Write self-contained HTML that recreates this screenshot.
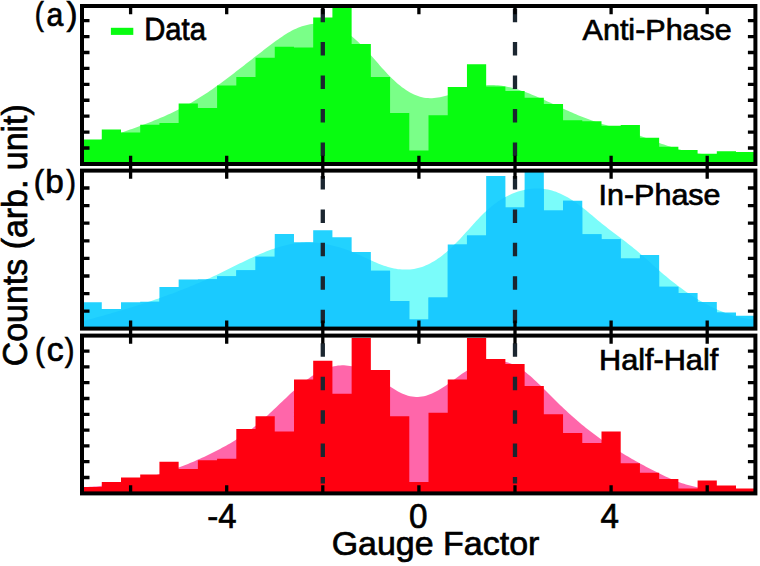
<!DOCTYPE html>
<html><head><meta charset="utf-8"><style>
html,body{margin:0;padding:0;background:#fff;}
body{width:760px;height:566px;overflow:hidden;position:relative;font-family:"Liberation Sans", sans-serif;}
svg text{font-family:"Liberation Sans", sans-serif;fill:#000;}
</style></head><body>
<svg width="760" height="566" viewBox="0 0 760 566" style="position:absolute;left:0;top:0">
<defs><clipPath id="barsb"><path d="M82.55,331.6V302.20H101.77V331.6ZM101.77,331.6V309.10H120.99V331.6ZM120.99,331.6V302.20H140.21V331.6ZM140.21,331.6V301.80H159.43V331.6ZM159.43,331.6V286.90H178.65V331.6ZM178.65,331.6V279.40H197.87V331.6ZM197.87,331.6V279.30H217.09V331.6ZM217.09,331.6V276.20H236.31V331.6ZM236.31,331.6V270.30H255.53V331.6ZM255.53,331.6V256.80H274.75V331.6ZM274.75,331.6V234.00H293.97V331.6ZM293.97,331.6V242.20H313.19V331.6ZM313.19,331.6V230.30H332.41V331.6ZM332.41,331.6V237.20H351.63V331.6ZM351.63,331.6V251.90H370.85V331.6ZM370.85,331.6V270.70H390.07V331.6ZM390.07,331.6V301.00H409.29V331.6ZM409.29,331.6V319.40H428.51V331.6ZM428.51,331.6V297.40H447.73V331.6ZM447.73,331.6V244.60H466.95V331.6ZM466.95,331.6V235.50H486.17V331.6ZM486.17,331.6V175.90H505.39V331.6ZM505.39,331.6V207.60H524.61V331.6ZM524.61,331.6V168.00H543.83V331.6ZM543.83,331.6V210.60H563.05V331.6ZM563.05,331.6V200.70H582.27V331.6ZM582.27,331.6V234.30H601.49V331.6ZM601.49,331.6V239.20H620.71V331.6ZM620.71,331.6V258.40H639.93V331.6ZM639.93,331.6V255.00H659.15V331.6ZM659.15,331.6V286.70H678.37V331.6ZM678.37,331.6V293.10H697.59V331.6ZM697.59,331.6V302.00H716.81V331.6ZM716.81,331.6V312.40H736.03V331.6ZM736.03,331.6V315.80H755.25V331.6Z"/></clipPath>
<clipPath id="clipa"><rect x="82.0" y="6.0" width="673.4" height="158.0"/></clipPath>
<clipPath id="clipb"><rect x="82.0" y="170.6" width="673.4" height="158.00000000000003"/></clipPath>
<clipPath id="clipc"><rect x="82.0" y="335.6" width="673.4" height="157.79999999999995"/></clipPath>
</defs>
<g clip-path="url(#clipa)">
<path d="M84.00,145.83 L86.00,145.07 L88.00,144.32 L90.00,143.58 L92.00,142.85 L94.00,142.12 L96.00,141.40 L98.00,140.69 L100.00,139.98 L102.00,139.28 L104.00,138.58 L106.00,137.89 L108.00,137.20 L110.00,136.51 L112.00,135.82 L114.00,135.13 L116.00,134.45 L118.00,133.76 L120.00,133.07 L122.00,132.38 L124.00,131.69 L126.00,130.99 L128.00,130.30 L130.00,129.59 L132.00,128.89 L134.00,128.17 L136.00,127.45 L138.00,126.73 L140.00,125.99 L142.00,125.25 L144.00,124.50 L146.00,123.74 L148.00,122.98 L150.00,122.20 L152.00,121.40 L154.00,120.60 L156.00,119.79 L158.00,118.96 L160.00,118.11 L162.00,117.26 L164.00,116.39 L166.00,115.50 L168.00,114.59 L170.00,113.67 L172.00,112.73 L174.00,111.78 L176.00,110.80 L178.00,109.80 L180.00,108.79 L182.00,107.75 L184.00,106.69 L186.00,105.61 L188.00,104.51 L190.00,103.38 L192.00,102.23 L194.00,101.05 L196.00,99.85 L198.00,98.62 L200.00,97.37 L202.00,96.09 L204.00,94.79 L206.00,93.47 L208.00,92.13 L210.00,90.76 L212.00,89.38 L214.00,87.98 L216.00,86.55 L218.00,85.12 L220.00,83.67 L222.00,82.20 L224.00,80.72 L226.00,79.23 L228.00,77.72 L230.00,76.21 L232.00,74.69 L234.00,73.15 L236.00,71.62 L238.00,70.07 L240.00,68.52 L242.00,66.96 L244.00,65.40 L246.00,63.84 L248.00,62.28 L250.00,60.72 L252.00,59.15 L254.00,57.59 L256.00,56.04 L258.00,54.48 L260.00,52.93 L262.00,51.39 L264.00,49.85 L266.00,48.32 L268.00,46.80 L270.00,45.29 L272.00,43.79 L274.00,42.30 L276.00,40.84 L278.00,39.40 L280.00,38.00 L282.00,36.64 L284.00,35.32 L286.00,34.05 L288.00,32.84 L290.00,31.68 L292.00,30.59 L294.00,29.58 L296.00,28.64 L298.00,27.78 L300.00,27.00 L302.00,26.29 L304.00,25.67 L306.00,25.13 L308.00,24.67 L310.00,24.29 L312.00,23.99 L314.00,23.78 L316.00,23.65 L318.00,23.61 L320.00,23.65 L322.00,23.78 L324.00,24.00 L326.00,24.30 L328.00,24.70 L330.00,25.18 L332.00,25.75 L334.00,26.42 L336.00,27.17 L338.00,28.02 L340.00,28.96 L342.00,29.99 L344.00,31.12 L346.00,32.35 L348.00,33.67 L350.00,35.08 L352.00,36.60 L354.00,38.21 L356.00,39.92 L358.00,41.73 L360.00,43.64 L362.00,45.63 L364.00,47.70 L366.00,49.83 L368.00,52.01 L370.00,54.24 L372.00,56.50 L374.00,58.78 L376.00,61.07 L378.00,63.36 L380.00,65.64 L382.00,67.89 L384.00,70.12 L386.00,72.29 L388.00,74.42 L390.00,76.47 L392.00,78.46 L394.00,80.36 L396.00,82.19 L398.00,83.93 L400.00,85.58 L402.00,87.14 L404.00,88.61 L406.00,89.99 L408.00,91.27 L410.00,92.45 L412.00,93.52 L414.00,94.49 L416.00,95.36 L418.00,96.10 L420.00,96.74 L422.00,97.26 L424.00,97.66 L426.00,97.94 L428.00,98.11 L430.00,98.18 L432.00,98.15 L434.00,98.03 L436.00,97.83 L438.00,97.55 L440.00,97.20 L442.00,96.79 L444.00,96.32 L446.00,95.80 L448.00,95.24 L450.00,94.64 L452.00,94.01 L454.00,93.36 L456.00,92.69 L458.00,92.01 L460.00,91.33 L462.00,90.65 L464.00,89.98 L466.00,89.33 L468.00,88.71 L470.00,88.11 L472.00,87.55 L474.00,87.03 L476.00,86.57 L478.00,86.16 L480.00,85.81 L482.00,85.53 L484.00,85.30 L486.00,85.14 L488.00,85.04 L490.00,84.99 L492.00,85.00 L494.00,85.06 L496.00,85.18 L498.00,85.35 L500.00,85.57 L502.00,85.83 L504.00,86.15 L506.00,86.51 L508.00,86.92 L510.00,87.37 L512.00,87.86 L514.00,88.40 L516.00,88.96 L518.00,89.57 L520.00,90.21 L522.00,90.88 L524.00,91.58 L526.00,92.31 L528.00,93.07 L530.00,93.85 L532.00,94.65 L534.00,95.48 L536.00,96.32 L538.00,97.18 L540.00,98.05 L542.00,98.94 L544.00,99.84 L546.00,100.75 L548.00,101.67 L550.00,102.59 L552.00,103.51 L554.00,104.44 L556.00,105.37 L558.00,106.30 L560.00,107.22 L562.00,108.14 L564.00,109.05 L566.00,109.95 L568.00,110.84 L570.00,111.72 L572.00,112.59 L574.00,113.45 L576.00,114.30 L578.00,115.14 L580.00,115.96 L582.00,116.76 L584.00,117.56 L586.00,118.33 L588.00,119.09 L590.00,119.83 L592.00,120.56 L594.00,121.27 L596.00,121.95 L598.00,122.62 L600.00,123.27 L602.00,123.90 L604.00,124.50 L606.00,125.09 L608.00,125.67 L610.00,126.24 L612.00,126.80 L614.00,127.37 L616.00,127.94 L618.00,128.52 L620.00,129.11 L622.00,129.71 L624.00,130.33 L626.00,130.97 L628.00,131.62 L630.00,132.29 L632.00,132.97 L634.00,133.67 L636.00,134.38 L638.00,135.09 L640.00,135.82 L642.00,136.55 L644.00,137.29 L646.00,138.03 L648.00,138.77 L650.00,139.51 L652.00,140.25 L654.00,140.99 L656.00,141.72 L658.00,142.45 L660.00,143.17 L662.00,143.88 L664.00,144.58 L666.00,145.27 L668.00,145.95 L670.00,146.61 L672.00,147.25 L674.00,147.87 L676.00,148.48 L678.00,149.06 L680.00,149.62 L682.00,150.15 L684.00,150.66 L686.00,151.14 L688.00,151.59 L690.00,152.02 L692.00,152.42 L694.00,152.79 L696.00,153.14 L698.00,153.47 L700.00,153.78 L702.00,154.07 L704.00,154.34 L706.00,154.59 L708.00,154.83 L710.00,155.06 L712.00,155.26 L714.00,155.46 L716.00,155.65 L718.00,155.82 L720.00,155.99 L722.00,156.15 L724.00,156.31 L726.00,156.46 L728.00,156.60 L730.00,156.75 L732.00,156.89 L734.00,157.03 L736.00,157.17 L738.00,157.32 L740.00,157.47 L742.00,157.62 L744.00,157.78 L746.00,157.95 L748.00,158.12 L750.00,158.31 L752.00,158.50 L754.00,158.71 L756.00,158.93 L757.00,167.0 L84.00,167.0 Z" fill="#7aff88"/>
<path d="M82.55,167.0V139.60H101.77V167.0ZM101.77,167.0V129.60H120.99V167.0ZM120.99,167.0V132.50H140.21V167.0ZM140.21,167.0V124.80H159.43V167.0ZM159.43,167.0V123.00H178.65V167.0ZM178.65,167.0V103.50H197.87V167.0ZM197.87,167.0V108.00H217.09V167.0ZM217.09,167.0V85.60H236.31V167.0ZM236.31,167.0V77.00H255.53V167.0ZM255.53,167.0V57.70H274.75V167.0ZM274.75,167.0V46.70H293.97V167.0ZM293.97,167.0V47.50H313.19V167.0ZM313.19,167.0V17.50H332.41V167.0ZM332.41,167.0V4.00H351.63V167.0ZM351.63,167.0V44.00H370.85V167.0ZM370.85,167.0V77.00H390.07V167.0ZM390.07,167.0V113.00H409.29V167.0ZM409.29,167.0V150.60H428.51V167.0ZM428.51,167.0V115.30H447.73V167.0ZM447.73,167.0V87.00H466.95V167.0ZM466.95,167.0V64.30H486.17V167.0ZM486.17,167.0V86.60H505.39V167.0ZM505.39,167.0V91.00H524.61V167.0ZM524.61,167.0V97.80H543.83V167.0ZM543.83,167.0V103.90H563.05V167.0ZM563.05,167.0V120.30H582.27V167.0ZM582.27,167.0V121.30H601.49V167.0ZM601.49,167.0V125.80H620.71V167.0ZM620.71,167.0V124.90H639.93V167.0ZM639.93,167.0V137.70H659.15V167.0ZM659.15,167.0V146.80H678.37V167.0ZM678.37,167.0V150.00H697.59V167.0ZM697.59,167.0V153.70H716.81V167.0ZM716.81,167.0V151.30H736.03V167.0ZM736.03,167.0V152.10H755.25V167.0Z" fill="#08fc10"/>
</g>
<g clip-path="url(#clipb)">
<path d="M84.00,320.89 L86.00,320.35 L88.00,319.81 L90.00,319.27 L92.00,318.72 L94.00,318.17 L96.00,317.62 L98.00,317.07 L100.00,316.51 L102.00,315.95 L104.00,315.39 L106.00,314.83 L108.00,314.26 L110.00,313.69 L112.00,313.12 L114.00,312.54 L116.00,311.96 L118.00,311.37 L120.00,310.79 L122.00,310.19 L124.00,309.60 L126.00,308.99 L128.00,308.39 L130.00,307.78 L132.00,307.16 L134.00,306.54 L136.00,305.92 L138.00,305.29 L140.00,304.65 L142.00,304.01 L144.00,303.36 L146.00,302.71 L148.00,302.05 L150.00,301.38 L152.00,300.71 L154.00,300.04 L156.00,299.35 L158.00,298.66 L160.00,297.97 L162.00,297.26 L164.00,296.55 L166.00,295.83 L168.00,295.11 L170.00,294.37 L172.00,293.63 L174.00,292.89 L176.00,292.13 L178.00,291.37 L180.00,290.59 L182.00,289.81 L184.00,289.03 L186.00,288.23 L188.00,287.42 L190.00,286.61 L192.00,285.78 L194.00,284.95 L196.00,284.11 L198.00,283.26 L200.00,282.40 L202.00,281.53 L204.00,280.65 L206.00,279.76 L208.00,278.86 L210.00,277.95 L212.00,277.03 L214.00,276.10 L216.00,275.15 L218.00,274.20 L220.00,273.24 L222.00,272.27 L224.00,271.29 L226.00,270.31 L228.00,269.32 L230.00,268.33 L232.00,267.33 L234.00,266.34 L236.00,265.35 L238.00,264.36 L240.00,263.37 L242.00,262.40 L244.00,261.42 L246.00,260.46 L248.00,259.51 L250.00,258.57 L252.00,257.64 L254.00,256.72 L256.00,255.82 L258.00,254.94 L260.00,254.08 L262.00,253.23 L264.00,252.41 L266.00,251.61 L268.00,250.84 L270.00,250.09 L272.00,249.37 L274.00,248.68 L276.00,248.01 L278.00,247.38 L280.00,246.78 L282.00,246.22 L284.00,245.69 L286.00,245.20 L288.00,244.75 L290.00,244.34 L292.00,243.97 L294.00,243.64 L296.00,243.36 L298.00,243.12 L300.00,242.92 L302.00,242.77 L304.00,242.66 L306.00,242.59 L308.00,242.56 L310.00,242.58 L312.00,242.64 L314.00,242.74 L316.00,242.87 L318.00,243.05 L320.00,243.27 L322.00,243.53 L324.00,243.82 L326.00,244.16 L328.00,244.53 L330.00,244.95 L332.00,245.39 L334.00,245.88 L336.00,246.40 L338.00,246.96 L340.00,247.56 L342.00,248.19 L344.00,248.85 L346.00,249.55 L348.00,250.29 L350.00,251.06 L352.00,251.86 L354.00,252.70 L356.00,253.56 L358.00,254.44 L360.00,255.34 L362.00,256.26 L364.00,257.18 L366.00,258.10 L368.00,259.02 L370.00,259.94 L372.00,260.84 L374.00,261.72 L376.00,262.58 L378.00,263.41 L380.00,264.21 L382.00,264.97 L384.00,265.69 L386.00,266.36 L388.00,266.97 L390.00,267.53 L392.00,268.03 L394.00,268.46 L396.00,268.83 L398.00,269.13 L400.00,269.36 L402.00,269.52 L404.00,269.61 L406.00,269.62 L408.00,269.56 L410.00,269.42 L412.00,269.20 L414.00,268.90 L416.00,268.53 L418.00,268.06 L420.00,267.52 L422.00,266.88 L424.00,266.16 L426.00,265.35 L428.00,264.45 L430.00,263.46 L432.00,262.37 L434.00,261.20 L436.00,259.94 L438.00,258.59 L440.00,257.17 L442.00,255.66 L444.00,254.08 L446.00,252.42 L448.00,250.68 L450.00,248.88 L452.00,247.00 L454.00,245.06 L456.00,243.06 L458.00,241.00 L460.00,238.89 L462.00,236.73 L464.00,234.55 L466.00,232.34 L468.00,230.13 L470.00,227.91 L472.00,225.69 L474.00,223.50 L476.00,221.33 L478.00,219.19 L480.00,217.10 L482.00,215.07 L484.00,213.10 L486.00,211.20 L488.00,209.38 L490.00,207.65 L492.00,206.00 L494.00,204.43 L496.00,202.94 L498.00,201.53 L500.00,200.20 L502.00,198.94 L504.00,197.77 L506.00,196.66 L508.00,195.63 L510.00,194.67 L512.00,193.79 L514.00,192.97 L516.00,192.23 L518.00,191.55 L520.00,190.94 L522.00,190.40 L524.00,189.93 L526.00,189.51 L528.00,189.17 L530.00,188.89 L532.00,188.68 L534.00,188.53 L536.00,188.46 L538.00,188.46 L540.00,188.53 L542.00,188.68 L544.00,188.90 L546.00,189.20 L548.00,189.57 L550.00,190.02 L552.00,190.56 L554.00,191.17 L556.00,191.87 L558.00,192.64 L560.00,193.50 L562.00,194.42 L564.00,195.42 L566.00,196.48 L568.00,197.61 L570.00,198.81 L572.00,200.06 L574.00,201.38 L576.00,202.75 L578.00,204.18 L580.00,205.66 L582.00,207.18 L584.00,208.76 L586.00,210.37 L588.00,212.01 L590.00,213.68 L592.00,215.36 L594.00,217.04 L596.00,218.72 L598.00,220.40 L600.00,222.05 L602.00,223.67 L604.00,225.27 L606.00,226.84 L608.00,228.39 L610.00,229.92 L612.00,231.43 L614.00,232.94 L616.00,234.45 L618.00,235.96 L620.00,237.47 L622.00,238.99 L624.00,240.53 L626.00,242.07 L628.00,243.64 L630.00,245.23 L632.00,246.83 L634.00,248.46 L636.00,250.11 L638.00,251.79 L640.00,253.50 L642.00,255.23 L644.00,256.99 L646.00,258.77 L648.00,260.56 L650.00,262.36 L652.00,264.16 L654.00,265.96 L656.00,267.74 L658.00,269.51 L660.00,271.26 L662.00,272.99 L664.00,274.69 L666.00,276.37 L668.00,278.02 L670.00,279.64 L672.00,281.24 L674.00,282.81 L676.00,284.36 L678.00,285.88 L680.00,287.37 L682.00,288.83 L684.00,290.26 L686.00,291.66 L688.00,293.04 L690.00,294.39 L692.00,295.70 L694.00,296.99 L696.00,298.24 L698.00,299.47 L700.00,300.66 L702.00,301.82 L704.00,302.95 L706.00,304.05 L708.00,305.11 L710.00,306.14 L712.00,307.14 L714.00,308.10 L716.00,309.03 L718.00,309.92 L720.00,310.78 L722.00,311.61 L724.00,312.40 L726.00,313.15 L728.00,313.87 L730.00,314.54 L732.00,315.19 L734.00,315.79 L736.00,316.36 L738.00,316.89 L740.00,317.38 L742.00,317.83 L744.00,318.24 L746.00,318.61 L748.00,318.94 L750.00,319.23 L752.00,319.48 L754.00,319.69 L756.00,319.86 L757.00,331.6 L84.00,331.6 Z" fill="#7afcfa"/>
<path d="M82.55,331.6V302.20H101.77V331.6ZM101.77,331.6V309.10H120.99V331.6ZM120.99,331.6V302.20H140.21V331.6ZM140.21,331.6V301.80H159.43V331.6ZM159.43,331.6V286.90H178.65V331.6ZM178.65,331.6V279.40H197.87V331.6ZM197.87,331.6V279.30H217.09V331.6ZM217.09,331.6V276.20H236.31V331.6ZM236.31,331.6V270.30H255.53V331.6ZM255.53,331.6V256.80H274.75V331.6ZM274.75,331.6V234.00H293.97V331.6ZM293.97,331.6V242.20H313.19V331.6ZM313.19,331.6V230.30H332.41V331.6ZM332.41,331.6V237.20H351.63V331.6ZM351.63,331.6V251.90H370.85V331.6ZM370.85,331.6V270.70H390.07V331.6ZM390.07,331.6V301.00H409.29V331.6ZM409.29,331.6V319.40H428.51V331.6ZM428.51,331.6V297.40H447.73V331.6ZM447.73,331.6V244.60H466.95V331.6ZM466.95,331.6V235.50H486.17V331.6ZM486.17,331.6V175.90H505.39V331.6ZM505.39,331.6V207.60H524.61V331.6ZM524.61,331.6V168.00H543.83V331.6ZM543.83,331.6V210.60H563.05V331.6ZM563.05,331.6V200.70H582.27V331.6ZM582.27,331.6V234.30H601.49V331.6ZM601.49,331.6V239.20H620.71V331.6ZM620.71,331.6V258.40H639.93V331.6ZM639.93,331.6V255.00H659.15V331.6ZM659.15,331.6V286.70H678.37V331.6ZM678.37,331.6V293.10H697.59V331.6ZM697.59,331.6V302.00H716.81V331.6ZM716.81,331.6V312.40H736.03V331.6ZM736.03,331.6V315.80H755.25V331.6Z" fill="#22d2ff"/>
<path d="M84.00,320.89 L86.00,320.35 L88.00,319.81 L90.00,319.27 L92.00,318.72 L94.00,318.17 L96.00,317.62 L98.00,317.07 L100.00,316.51 L102.00,315.95 L104.00,315.39 L106.00,314.83 L108.00,314.26 L110.00,313.69 L112.00,313.12 L114.00,312.54 L116.00,311.96 L118.00,311.37 L120.00,310.79 L122.00,310.19 L124.00,309.60 L126.00,308.99 L128.00,308.39 L130.00,307.78 L132.00,307.16 L134.00,306.54 L136.00,305.92 L138.00,305.29 L140.00,304.65 L142.00,304.01 L144.00,303.36 L146.00,302.71 L148.00,302.05 L150.00,301.38 L152.00,300.71 L154.00,300.04 L156.00,299.35 L158.00,298.66 L160.00,297.97 L162.00,297.26 L164.00,296.55 L166.00,295.83 L168.00,295.11 L170.00,294.37 L172.00,293.63 L174.00,292.89 L176.00,292.13 L178.00,291.37 L180.00,290.59 L182.00,289.81 L184.00,289.03 L186.00,288.23 L188.00,287.42 L190.00,286.61 L192.00,285.78 L194.00,284.95 L196.00,284.11 L198.00,283.26 L200.00,282.40 L202.00,281.53 L204.00,280.65 L206.00,279.76 L208.00,278.86 L210.00,277.95 L212.00,277.03 L214.00,276.10 L216.00,275.15 L218.00,274.20 L220.00,273.24 L222.00,272.27 L224.00,271.29 L226.00,270.31 L228.00,269.32 L230.00,268.33 L232.00,267.33 L234.00,266.34 L236.00,265.35 L238.00,264.36 L240.00,263.37 L242.00,262.40 L244.00,261.42 L246.00,260.46 L248.00,259.51 L250.00,258.57 L252.00,257.64 L254.00,256.72 L256.00,255.82 L258.00,254.94 L260.00,254.08 L262.00,253.23 L264.00,252.41 L266.00,251.61 L268.00,250.84 L270.00,250.09 L272.00,249.37 L274.00,248.68 L276.00,248.01 L278.00,247.38 L280.00,246.78 L282.00,246.22 L284.00,245.69 L286.00,245.20 L288.00,244.75 L290.00,244.34 L292.00,243.97 L294.00,243.64 L296.00,243.36 L298.00,243.12 L300.00,242.92 L302.00,242.77 L304.00,242.66 L306.00,242.59 L308.00,242.56 L310.00,242.58 L312.00,242.64 L314.00,242.74 L316.00,242.87 L318.00,243.05 L320.00,243.27 L322.00,243.53 L324.00,243.82 L326.00,244.16 L328.00,244.53 L330.00,244.95 L332.00,245.39 L334.00,245.88 L336.00,246.40 L338.00,246.96 L340.00,247.56 L342.00,248.19 L344.00,248.85 L346.00,249.55 L348.00,250.29 L350.00,251.06 L352.00,251.86 L354.00,252.70 L356.00,253.56 L358.00,254.44 L360.00,255.34 L362.00,256.26 L364.00,257.18 L366.00,258.10 L368.00,259.02 L370.00,259.94 L372.00,260.84 L374.00,261.72 L376.00,262.58 L378.00,263.41 L380.00,264.21 L382.00,264.97 L384.00,265.69 L386.00,266.36 L388.00,266.97 L390.00,267.53 L392.00,268.03 L394.00,268.46 L396.00,268.83 L398.00,269.13 L400.00,269.36 L402.00,269.52 L404.00,269.61 L406.00,269.62 L408.00,269.56 L410.00,269.42 L412.00,269.20 L414.00,268.90 L416.00,268.53 L418.00,268.06 L420.00,267.52 L422.00,266.88 L424.00,266.16 L426.00,265.35 L428.00,264.45 L430.00,263.46 L432.00,262.37 L434.00,261.20 L436.00,259.94 L438.00,258.59 L440.00,257.17 L442.00,255.66 L444.00,254.08 L446.00,252.42 L448.00,250.68 L450.00,248.88 L452.00,247.00 L454.00,245.06 L456.00,243.06 L458.00,241.00 L460.00,238.89 L462.00,236.73 L464.00,234.55 L466.00,232.34 L468.00,230.13 L470.00,227.91 L472.00,225.69 L474.00,223.50 L476.00,221.33 L478.00,219.19 L480.00,217.10 L482.00,215.07 L484.00,213.10 L486.00,211.20 L488.00,209.38 L490.00,207.65 L492.00,206.00 L494.00,204.43 L496.00,202.94 L498.00,201.53 L500.00,200.20 L502.00,198.94 L504.00,197.77 L506.00,196.66 L508.00,195.63 L510.00,194.67 L512.00,193.79 L514.00,192.97 L516.00,192.23 L518.00,191.55 L520.00,190.94 L522.00,190.40 L524.00,189.93 L526.00,189.51 L528.00,189.17 L530.00,188.89 L532.00,188.68 L534.00,188.53 L536.00,188.46 L538.00,188.46 L540.00,188.53 L542.00,188.68 L544.00,188.90 L546.00,189.20 L548.00,189.57 L550.00,190.02 L552.00,190.56 L554.00,191.17 L556.00,191.87 L558.00,192.64 L560.00,193.50 L562.00,194.42 L564.00,195.42 L566.00,196.48 L568.00,197.61 L570.00,198.81 L572.00,200.06 L574.00,201.38 L576.00,202.75 L578.00,204.18 L580.00,205.66 L582.00,207.18 L584.00,208.76 L586.00,210.37 L588.00,212.01 L590.00,213.68 L592.00,215.36 L594.00,217.04 L596.00,218.72 L598.00,220.40 L600.00,222.05 L602.00,223.67 L604.00,225.27 L606.00,226.84 L608.00,228.39 L610.00,229.92 L612.00,231.43 L614.00,232.94 L616.00,234.45 L618.00,235.96 L620.00,237.47 L622.00,238.99 L624.00,240.53 L626.00,242.07 L628.00,243.64 L630.00,245.23 L632.00,246.83 L634.00,248.46 L636.00,250.11 L638.00,251.79 L640.00,253.50 L642.00,255.23 L644.00,256.99 L646.00,258.77 L648.00,260.56 L650.00,262.36 L652.00,264.16 L654.00,265.96 L656.00,267.74 L658.00,269.51 L660.00,271.26 L662.00,272.99 L664.00,274.69 L666.00,276.37 L668.00,278.02 L670.00,279.64 L672.00,281.24 L674.00,282.81 L676.00,284.36 L678.00,285.88 L680.00,287.37 L682.00,288.83 L684.00,290.26 L686.00,291.66 L688.00,293.04 L690.00,294.39 L692.00,295.70 L694.00,296.99 L696.00,298.24 L698.00,299.47 L700.00,300.66 L702.00,301.82 L704.00,302.95 L706.00,304.05 L708.00,305.11 L710.00,306.14 L712.00,307.14 L714.00,308.10 L716.00,309.03 L718.00,309.92 L720.00,310.78 L722.00,311.61 L724.00,312.40 L726.00,313.15 L728.00,313.87 L730.00,314.54 L732.00,315.19 L734.00,315.79 L736.00,316.36 L738.00,316.89 L740.00,317.38 L742.00,317.83 L744.00,318.24 L746.00,318.61 L748.00,318.94 L750.00,319.23 L752.00,319.48 L754.00,319.69 L756.00,319.86 L757.00,331.6 L84.00,331.6 Z" fill="#1acaff" clip-path="url(#barsb)"/>
</g>
<g clip-path="url(#clipc)">
<path d="M84.00,487.11 L86.00,487.03 L88.00,486.93 L90.00,486.82 L92.00,486.69 L94.00,486.55 L96.00,486.40 L98.00,486.23 L100.00,486.05 L102.00,485.86 L104.00,485.65 L106.00,485.42 L108.00,485.18 L110.00,484.93 L112.00,484.66 L114.00,484.38 L116.00,484.09 L118.00,483.78 L120.00,483.45 L122.00,483.12 L124.00,482.76 L126.00,482.40 L128.00,482.02 L130.00,481.62 L132.00,481.21 L134.00,480.79 L136.00,480.35 L138.00,479.90 L140.00,479.43 L142.00,478.95 L144.00,478.45 L146.00,477.94 L148.00,477.42 L150.00,476.88 L152.00,476.33 L154.00,475.76 L156.00,475.18 L158.00,474.58 L160.00,473.97 L162.00,473.35 L164.00,472.71 L166.00,472.05 L168.00,471.39 L170.00,470.70 L172.00,470.01 L174.00,469.29 L176.00,468.57 L178.00,467.83 L180.00,467.07 L182.00,466.30 L184.00,465.52 L186.00,464.72 L188.00,463.91 L190.00,463.08 L192.00,462.24 L194.00,461.38 L196.00,460.51 L198.00,459.62 L200.00,458.72 L202.00,457.81 L204.00,456.88 L206.00,455.94 L208.00,454.98 L210.00,454.00 L212.00,453.02 L214.00,452.01 L216.00,451.00 L218.00,449.97 L220.00,448.92 L222.00,447.85 L224.00,446.77 L226.00,445.67 L228.00,444.54 L230.00,443.39 L232.00,442.22 L234.00,441.01 L236.00,439.78 L238.00,438.52 L240.00,437.22 L242.00,435.89 L244.00,434.53 L246.00,433.13 L248.00,431.69 L250.00,430.20 L252.00,428.68 L254.00,427.11 L256.00,425.49 L258.00,423.83 L260.00,422.13 L262.00,420.39 L264.00,418.61 L266.00,416.80 L268.00,414.97 L270.00,413.11 L272.00,411.23 L274.00,409.34 L276.00,407.43 L278.00,405.52 L280.00,403.61 L282.00,401.69 L284.00,399.78 L286.00,397.88 L288.00,395.99 L290.00,394.12 L292.00,392.27 L294.00,390.46 L296.00,388.67 L298.00,386.92 L300.00,385.21 L302.00,383.54 L304.00,381.93 L306.00,380.37 L308.00,378.88 L310.00,377.44 L312.00,376.08 L314.00,374.78 L316.00,373.55 L318.00,372.41 L320.00,371.33 L322.00,370.34 L324.00,369.44 L326.00,368.61 L328.00,367.88 L330.00,367.24 L332.00,366.69 L334.00,366.23 L336.00,365.88 L338.00,365.61 L340.00,365.44 L342.00,365.36 L344.00,365.37 L346.00,365.47 L348.00,365.66 L350.00,365.94 L352.00,366.30 L354.00,366.75 L356.00,367.28 L358.00,367.89 L360.00,368.58 L362.00,369.35 L364.00,370.21 L366.00,371.13 L368.00,372.14 L370.00,373.22 L372.00,374.37 L374.00,375.59 L376.00,376.87 L378.00,378.19 L380.00,379.54 L382.00,380.91 L384.00,382.30 L386.00,383.69 L388.00,385.06 L390.00,386.42 L392.00,387.74 L394.00,389.01 L396.00,390.23 L398.00,391.38 L400.00,392.45 L402.00,393.43 L404.00,394.32 L406.00,395.09 L408.00,395.73 L410.00,396.24 L412.00,396.62 L414.00,396.85 L416.00,396.96 L418.00,396.93 L420.00,396.79 L422.00,396.52 L424.00,396.13 L426.00,395.63 L428.00,395.03 L430.00,394.32 L432.00,393.51 L434.00,392.60 L436.00,391.60 L438.00,390.51 L440.00,389.34 L442.00,388.09 L444.00,386.78 L446.00,385.42 L448.00,384.01 L450.00,382.58 L452.00,381.12 L454.00,379.65 L456.00,378.18 L458.00,376.72 L460.00,375.28 L462.00,373.87 L464.00,372.51 L466.00,371.20 L468.00,369.95 L470.00,368.77 L472.00,367.66 L474.00,366.63 L476.00,365.67 L478.00,364.79 L480.00,363.99 L482.00,363.28 L484.00,362.65 L486.00,362.11 L488.00,361.65 L490.00,361.29 L492.00,361.02 L494.00,360.84 L496.00,360.77 L498.00,360.79 L500.00,360.92 L502.00,361.15 L504.00,361.49 L506.00,361.93 L508.00,362.49 L510.00,363.15 L512.00,363.94 L514.00,364.84 L516.00,365.86 L518.00,367.00 L520.00,368.24 L522.00,369.59 L524.00,371.03 L526.00,372.56 L528.00,374.17 L530.00,375.85 L532.00,377.60 L534.00,379.41 L536.00,381.27 L538.00,383.17 L540.00,385.10 L542.00,387.07 L544.00,389.06 L546.00,391.06 L548.00,393.07 L550.00,395.08 L552.00,397.08 L554.00,399.07 L556.00,401.04 L558.00,402.99 L560.00,404.92 L562.00,406.82 L564.00,408.71 L566.00,410.58 L568.00,412.42 L570.00,414.24 L572.00,416.03 L574.00,417.81 L576.00,419.55 L578.00,421.27 L580.00,422.97 L582.00,424.64 L584.00,426.28 L586.00,427.89 L588.00,429.48 L590.00,431.05 L592.00,432.58 L594.00,434.10 L596.00,435.59 L598.00,437.05 L600.00,438.50 L602.00,439.92 L604.00,441.32 L606.00,442.70 L608.00,444.05 L610.00,445.39 L612.00,446.71 L614.00,448.01 L616.00,449.29 L618.00,450.55 L620.00,451.80 L622.00,453.03 L624.00,454.24 L626.00,455.44 L628.00,456.62 L630.00,457.78 L632.00,458.94 L634.00,460.08 L636.00,461.20 L638.00,462.32 L640.00,463.42 L642.00,464.51 L644.00,465.59 L646.00,466.66 L648.00,467.72 L650.00,468.77 L652.00,469.82 L654.00,470.85 L656.00,471.86 L658.00,472.87 L660.00,473.86 L662.00,474.82 L664.00,475.77 L666.00,476.70 L668.00,477.61 L670.00,478.49 L672.00,479.35 L674.00,480.17 L676.00,480.97 L678.00,481.74 L680.00,482.47 L682.00,483.17 L684.00,483.83 L686.00,484.46 L688.00,485.04 L690.00,485.59 L692.00,486.09 L694.00,486.56 L696.00,486.99 L698.00,487.39 L700.00,487.76 L702.00,488.10 L704.00,488.41 L706.00,488.69 L708.00,488.95 L710.00,489.18 L712.00,489.39 L714.00,489.58 L716.00,489.75 L718.00,489.91 L720.00,490.05 L722.00,490.18 L724.00,490.29 L726.00,490.40 L728.00,490.49 L730.00,490.58 L732.00,490.67 L734.00,490.75 L736.00,490.83 L738.00,490.91 L740.00,490.99 L742.00,491.07 L744.00,491.16 L746.00,491.26 L748.00,491.36 L750.00,491.47 L752.00,491.60 L754.00,491.74 L756.00,491.89 L757.00,496.4 L84.00,496.4 Z" fill="#ff66aa"/>
<path d="M82.55,496.4V487.00H101.77V496.4ZM101.77,496.4V482.00H120.99V496.4ZM120.99,496.4V477.50H140.21V496.4ZM140.21,496.4V474.50H159.43V496.4ZM159.43,496.4V461.80H178.65V496.4ZM178.65,496.4V469.10H197.87V496.4ZM197.87,496.4V460.20H217.09V496.4ZM217.09,496.4V458.70H236.31V496.4ZM236.31,496.4V429.00H255.53V496.4ZM255.53,496.4V416.20H274.75V496.4ZM274.75,496.4V431.60H293.97V496.4ZM293.97,496.4V379.50H313.19V496.4ZM313.19,496.4V360.70H332.41V496.4ZM332.41,496.4V393.80H351.63V496.4ZM351.63,496.4V338.00H370.85V496.4ZM370.85,496.4V370.00H390.07V496.4ZM390.07,496.4V416.20H409.29V496.4ZM409.29,496.4V481.90H428.51V496.4ZM428.51,496.4V412.80H447.73V496.4ZM447.73,496.4V379.60H466.95V496.4ZM466.95,496.4V338.00H486.17V496.4ZM486.17,496.4V359.10H505.39V496.4ZM505.39,496.4V364.10H524.61V496.4ZM524.61,496.4V386.10H543.83V496.4ZM543.83,496.4V414.20H563.05V496.4ZM563.05,496.4V433.00H582.27V496.4ZM582.27,496.4V443.00H601.49V496.4ZM601.49,496.4V431.50H620.71V496.4ZM620.71,496.4V463.20H639.93V496.4ZM639.93,496.4V472.70H659.15V496.4ZM659.15,496.4V479.00H678.37V496.4ZM678.37,496.4V488.60H697.59V496.4ZM697.59,496.4V480.60H716.81V496.4ZM716.81,496.4V485.40H736.03V496.4ZM736.03,496.4V488.60H755.25V496.4Z" fill="#ff0010"/>
</g>
<line x1="322.80" y1="8.64" x2="322.80" y2="483.6" stroke="#1b2630" stroke-width="4.3" stroke-dasharray="13.5 19.96" stroke-dashoffset="-0.0"/>
<line x1="515.00" y1="8.64" x2="515.00" y2="483.6" stroke="#1b2630" stroke-width="4.3" stroke-dasharray="13.5 19.96" stroke-dashoffset="-0.0"/>
<rect x="82.0" y="6.0" width="673.4" height="158.0" fill="none" stroke="#000" stroke-width="4"/>
<path d="M82.0,20.70H89.5M755.4,20.70H747.9M82.0,36.61H89.5M755.4,36.61H747.9M82.0,52.52H89.5M755.4,52.52H747.9M82.0,68.43H89.5M755.4,68.43H747.9M82.0,84.34H89.5M755.4,84.34H747.9M82.0,100.25H89.5M755.4,100.25H747.9M82.0,116.16H89.5M755.4,116.16H747.9M82.0,132.07H89.5M755.4,132.07H747.9M82.0,147.98H89.5M755.4,147.98H747.9" stroke="#000" stroke-width="3.3" fill="none"/>
<rect x="82.0" y="170.6" width="673.4" height="158.00000000000003" fill="none" stroke="#000" stroke-width="4"/>
<path d="M82.0,188.00H89.5M755.4,188.00H747.9M82.0,205.60H89.5M755.4,205.60H747.9M82.0,223.20H89.5M755.4,223.20H747.9M82.0,240.80H89.5M755.4,240.80H747.9M82.0,258.40H89.5M755.4,258.40H747.9M82.0,276.00H89.5M755.4,276.00H747.9M82.0,293.60H89.5M755.4,293.60H747.9M82.0,311.20H89.5M755.4,311.20H747.9" stroke="#000" stroke-width="3.3" fill="none"/>
<rect x="82.0" y="335.6" width="673.4" height="157.79999999999995" fill="none" stroke="#000" stroke-width="4"/>
<path d="M82.0,351.10H89.5M755.4,351.10H747.9M82.0,366.90H89.5M755.4,366.90H747.9M82.0,382.70H89.5M755.4,382.70H747.9M82.0,398.50H89.5M755.4,398.50H747.9M82.0,414.30H89.5M755.4,414.30H747.9M82.0,430.10H89.5M755.4,430.10H747.9M82.0,445.90H89.5M755.4,445.90H747.9M82.0,461.70H89.5M755.4,461.70H747.9M82.0,477.50H89.5M755.4,477.50H747.9" stroke="#000" stroke-width="3.3" fill="none"/>
<path d="M130.60,6.00V14.20M130.60,155.80V178.80M130.60,320.40V343.80M130.60,485.20V493.40M226.70,6.00V14.20M226.70,155.80V178.80M226.70,320.40V343.80M226.70,485.20V493.40M322.80,6.00V14.20M322.80,155.80V178.80M322.80,320.40V343.80M322.80,485.20V493.40M418.90,6.00V14.20M418.90,155.80V178.80M418.90,320.40V343.80M418.90,485.20V493.40M515.00,6.00V14.20M515.00,155.80V178.80M515.00,320.40V343.80M515.00,485.20V493.40M611.10,6.00V14.20M611.10,155.80V178.80M611.10,320.40V343.80M611.10,485.20V493.40M707.20,6.00V14.20M707.20,155.80V178.80M707.20,320.40V343.80M707.20,485.20V493.40" stroke="#000" stroke-width="3.3" fill="none"/>
<rect x="110.9" y="27.8" width="22.4" height="7.1" fill="#08fc10"/>

<g transform="matrix(0.9745,0,0,1.0731,1.964,-3.192)"><text x="146" y="40" font-size="30" stroke="#000" stroke-width="0.7">Data</text></g>
<g transform="matrix(1.0171,0,0,0.9732,-9.390,0.826)"><text x="582" y="40" font-size="30" stroke="#000" stroke-width="0.7">Anti-Phase</text></g>
<g transform="matrix(1.0165,0,0,0.9999,-12.368,0.267)"><text x="601" y="205" font-size="30" stroke="#000" stroke-width="0.7">In-Phase</text></g>
<g transform="matrix(1.0219,0,0,0.9599,-15.130,14.390)"><text x="601" y="370" font-size="30" stroke="#000" stroke-width="0.7">Half-Half</text></g>
<g transform="matrix(0.8198,0,0,0.9841,5.365,-0.121)"><text x="36" y="26" font-size="33.5" stroke="#000" stroke-width="0.7">(</text></g>
<g transform="matrix(0.9027,0,0,1.0193,4.153,-0.759)"><text x="47" y="26" font-size="33.5" stroke="#000" stroke-width="0.7">a</text></g>
<g transform="matrix(0.9885,0,0,0.9840,1.368,-0.121)"><text x="66" y="26" font-size="33.5" stroke="#000" stroke-width="0.7">)</text></g>
<g transform="matrix(0.9294,0,0,0.9904,1.113,0.878)"><text x="35" y="194" font-size="33.5" stroke="#000" stroke-width="0.7">(</text></g>
<g transform="matrix(0.9940,0,0,0.9714,-1.356,4.814)"><text x="47" y="194" font-size="33.5" stroke="#000" stroke-width="0.7">b</text></g>
<g transform="matrix(0.8694,0,0,0.9904,8.911,0.883)"><text x="66" y="194" font-size="33.5" stroke="#000" stroke-width="0.7">)</text></g>
<g transform="matrix(0.8876,0,0,1.0095,2.958,-3.944)"><text x="36" y="362" font-size="33.5" stroke="#000" stroke-width="0.7">(</text></g>
<g transform="matrix(1.0102,0,0,0.9922,-0.800,2.260)"><text x="47" y="362" font-size="33.5" stroke="#000" stroke-width="0.7">c</text></g>
<g transform="matrix(0.8694,0,0,1.0094,9.050,-3.934)"><text x="64" y="362" font-size="33.5" stroke="#000" stroke-width="0.7">)</text></g>
<g transform="matrix(0.9417,0,0,1.0162,11.341,-8.833)"><text x="208" y="528" font-size="35" stroke="#000" stroke-width="0.7">-4</text></g>
<g transform="matrix(0.9504,0,0,1.0190,19.414,-10.297)"><text x="410" y="528" font-size="35" stroke="#000" stroke-width="0.7">0</text></g>
<g transform="matrix(0.9488,0,0,1.0162,31.098,-8.833)"><text x="600" y="528" font-size="35" stroke="#000" stroke-width="0.7">4</text></g>
<g transform="matrix(0.9994,0,0,1.0032,-1.119,-2.461)"><text x="333" y="556" font-size="34" stroke="#000" stroke-width="0.7">Gauge Factor</text></g>
<g transform="matrix(1.0227,0,0,0.9980,-0.583,1.980)"><text transform="translate(27,365) rotate(-90)" x="0" y="0" font-size="34" stroke="#000" stroke-width="0.7">Counts (arb. unit)</text></g>
</svg>
</body></html>
